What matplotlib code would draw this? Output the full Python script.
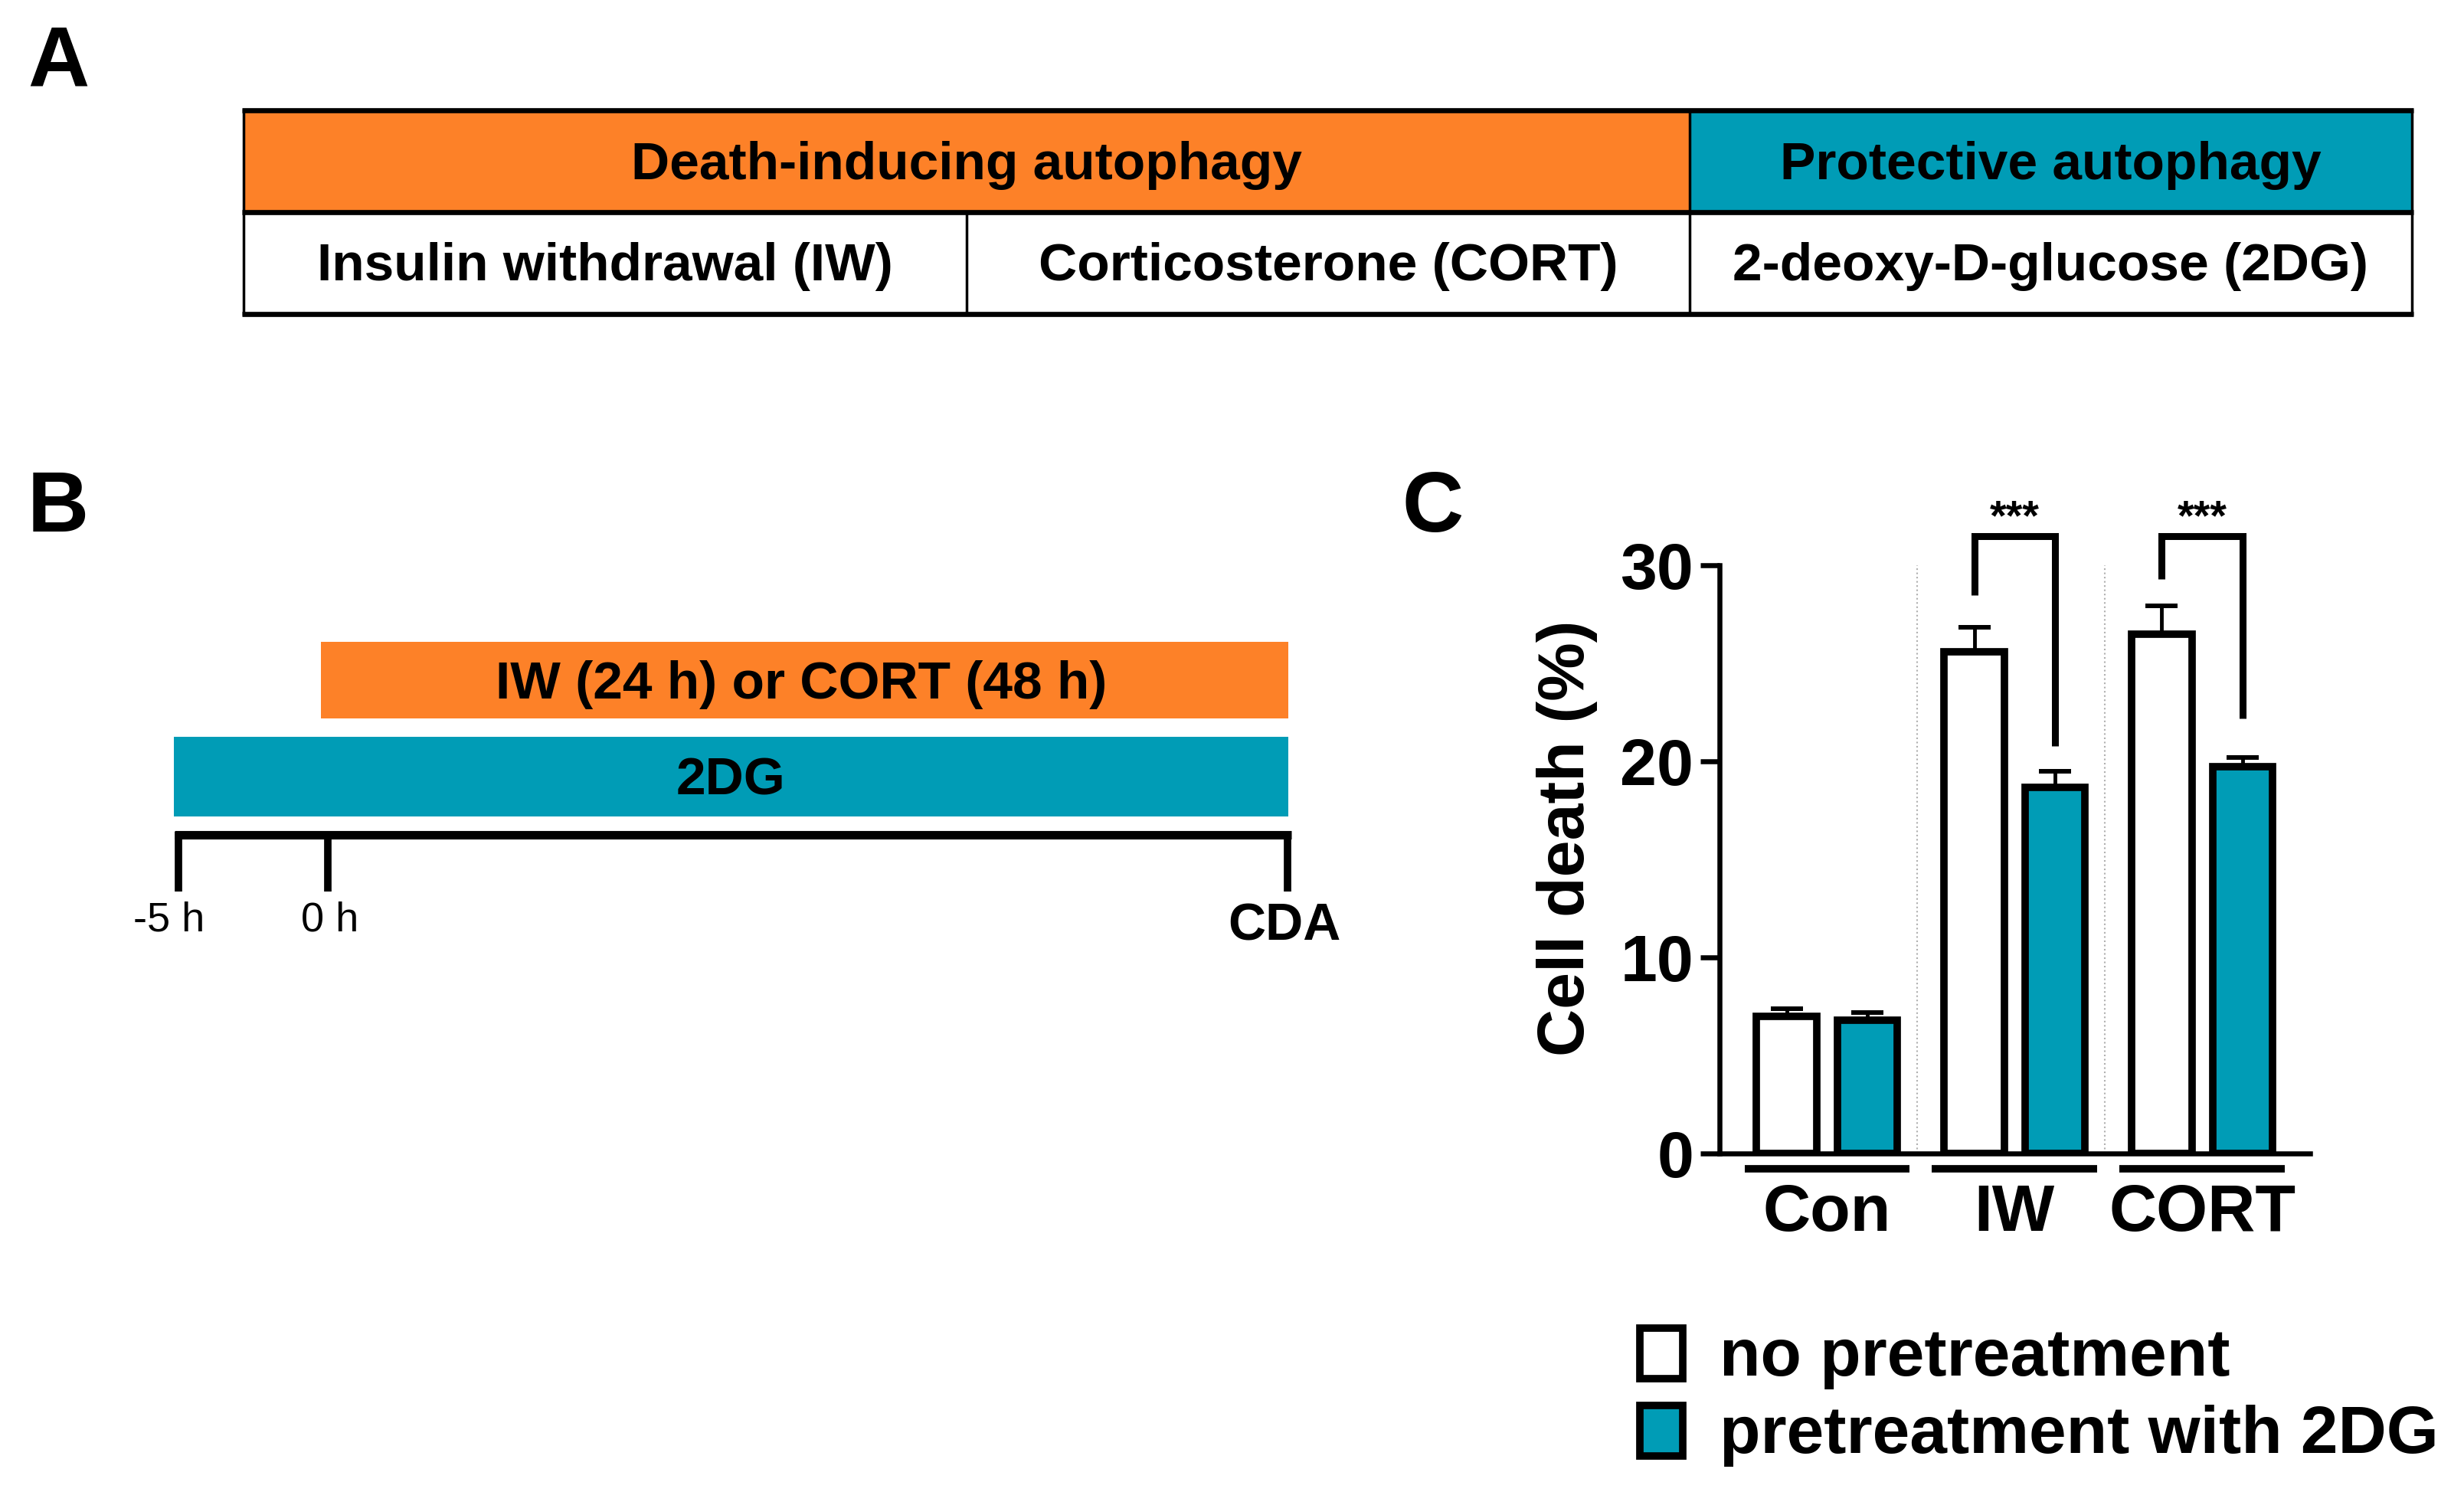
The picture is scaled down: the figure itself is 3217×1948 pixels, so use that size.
import numpy as np
import matplotlib.pyplot as plt
from matplotlib.patches import Rectangle

plt.rcParams['font.family'] = ['Liberation Sans', 'DejaVu Sans']

ORANGE = "#fd8128"
TEAL = "#009cb6"

# --- data ---
groups = ["Con", "IW", "CORT"]
series_labels = ["no pretreatment", "pretreatment with 2DG"]
no_pre = [7.0, 25.6, 26.5]
no_pre_sem = [0.4, 1.25, 1.45]
pre_2dg = [6.8, 18.7, 19.75]
pre_2dg_sem = [0.4, 0.8, 0.45]
sig = ["", "***", "***"]
bracket_left = [None, 28.5, 29.3]
bracket_right = [None, 20.8, 22.2]
bracket_top = 31.5

table_header = ["Death-inducing autophagy", "Protective autophagy"]
table_cells = ["Insulin withdrawal (IW)", "Corticosterone (CORT)", "2-deoxy-D-glucose (2DG)"]
timeline_bars = ["IW (24 h) or CORT (48 h)", "2DG"]
timeline_ticks = ["-5 h", "0 h", "CDA"]

W, H = 3217, 1948
fig = plt.figure(figsize=(W / 100, H / 100), dpi=100)

# overlay in pixel coords for the schematic panels A and B
ov = fig.add_axes([0, 0, 1, 1])
ov.set_xlim(0, W)
ov.set_ylim(H, 0)
ov.axis('off')

# --- panel A: table ---
tx = [318, 1262, 2206, 3149]
ty = [144, 277, 410]
ov.add_patch(Rectangle((tx[0], ty[0]), tx[2] - tx[0], ty[1] - ty[0], fc=ORANGE, ec='none'))
ov.add_patch(Rectangle((tx[2], ty[0]), tx[3] - tx[2], ty[1] - ty[0], fc=TEAL, ec='none'))
for y in ty:
    ov.plot([tx[0] - 2, tx[3] + 2], [y, y], color='black', lw=4.8, solid_capstyle='butt')
for x in [tx[0], tx[2], tx[3]]:
    ov.plot([x, x], [ty[0], ty[2]], color='black', lw=2.5)
ov.plot([tx[1], tx[1]], [ty[1], ty[2]], color='black', lw=2.5)

hdr_x = [(tx[0] + tx[2]) / 2, (tx[2] + tx[3]) / 2]
for xc, lab in zip(hdr_x, table_header):
    ov.text(xc, (ty[0] + ty[1]) / 2 + 6, lab, ha='center', va='center', fontsize=50, fontweight='bold')
cell_x = [(tx[0] + tx[1]) / 2, (tx[1] + tx[2]) / 2, (tx[2] + tx[3]) / 2]
for xc, lab in zip(cell_x, table_cells):
    ov.text(xc, (ty[1] + ty[2]) / 2 + 4, lab, ha='center', va='center', fontsize=50, fontweight='bold')

# --- panel B: timeline ---
bar_y = [(838, 938), (962, 1066)]
bar_x0 = [419, 227]
bar_x1 = 1682
bar_col = [ORANGE, TEAL]
for (y0, y1), x0, col in zip(bar_y, bar_x0, bar_col):
    ov.add_patch(Rectangle((x0, y0), bar_x1 - x0, y1 - y0, fc=col, ec='none'))
ov.text(1046, 894, timeline_bars[0], ha='center', va='center', fontsize=50, fontweight='bold')
ov.text(954, 1020, timeline_bars[1], ha='center', va='center', fontsize=50, fontweight='bold')

ov.plot([228, 1686], [1090, 1090], color='black', lw=8, solid_capstyle='butt')
tick_x = [233, 428, 1681]
for xt, lab in zip(tick_x, timeline_ticks):
    ov.plot([xt, xt], [1086, 1164], color='black', lw=7, solid_capstyle='butt')
    if lab == "CDA":
        ov.text(xt - 4, 1227, lab, ha='center', va='baseline', fontsize=49, fontweight='bold')
    else:
        ov.text(xt - 12 if lab.startswith('-') else xt + 3, 1215, lab,
                ha='center', va='baseline', fontsize=39)

# panel letters
for lab, (lx, ly) in zip(["A", "B", "C"], [(76, 84), (76, 665), (1871, 665)]):
    ov.text(lx, ly, lab, ha='center', va='center', fontsize=80, fontweight='bold')

# --- panel C: bar chart ---
ax = fig.add_axes([0.6977, 0.2269, 0.2398, 0.394])
x = np.arange(len(groups))
off, w = 0.215, 0.32
edge_lw = 7
axis_lw = 4.7
err_lw = 3.5

ax.bar(x - off, no_pre, w, color='white', edgecolor='black', linewidth=edge_lw, zorder=3)
ax.bar(x + off, pre_2dg, w, color=TEAL, edgecolor='black', linewidth=edge_lw, zorder=3)
ax.errorbar(x - off, no_pre, yerr=[np.zeros(3), no_pre_sem], fmt='none', ecolor='black',
            elinewidth=err_lw, capsize=15, capthick=4.3, zorder=2)
ax.errorbar(x + off, pre_2dg, yerr=[np.zeros(3), pre_2dg_sem], fmt='none', ecolor='black',
            elinewidth=err_lw, capsize=15, capthick=4.3, zorder=2)

ax.set_xlim(-0.575, 2.575)
ax.set_ylim(0, 30)
ax.set_yticks([0, 10, 20, 30])
ax.set_xticks([])
for s in ['top', 'right']:
    ax.spines[s].set_visible(False)
for s in ['left', 'bottom']:
    ax.spines[s].set_linewidth(axis_lw)
ax.tick_params(axis='y', length=18, width=axis_lw, labelsize=62, pad=6)
for t in ax.get_yticklabels():
    t.set_fontweight('bold')

ax.text(-0.257, 0.537, "Cell death (%)", transform=ax.transAxes, rotation=90,
        ha='center', va='center', fontsize=62, fontweight='bold')

# dotted separators between groups
for xs in [0.48, 1.48]:
    ax.plot([xs, xs], [0, 30], color='#b0b0b0', ls=':', lw=1.5, zorder=1)

# group underlines and labels
for i, g in enumerate(groups):
    ax.plot([i - 0.44, i + 0.44], [-0.77, -0.77], color='black', lw=7, clip_on=False,
            solid_capstyle='butt')
    ax.text(i, -3.95, g, ha='center', va='baseline', fontsize=62, fontweight='bold')

# significance brackets
for i in range(len(groups)):
    if not sig[i]:
        continue
    xl, xr = i - off, i + off
    ax.plot([xl, xl, xr, xr], [bracket_left[i], bracket_top, bracket_top, bracket_right[i]],
            color='black', lw=6.5, clip_on=False, solid_joinstyle='miter', solid_capstyle='butt')
    ax.text(i, bracket_top + 0.35, sig[i], ha='center', va='baseline', fontsize=40,
            fontweight='bold')

# legend (manual boxes)
leg_cols = ['white', TEAL]
leg_y = [1729, 1830]
for lab, col, yb in zip(series_labels, leg_cols, leg_y):
    ov.add_patch(Rectangle((2141, yb + 5), 56, 66, fc=col, ec='black', lw=7))
    ov.text(2245, yb + 67, lab, ha='left', va='baseline', fontsize=63, fontweight='bold')

fig.savefig('out.png', dpi=100)
